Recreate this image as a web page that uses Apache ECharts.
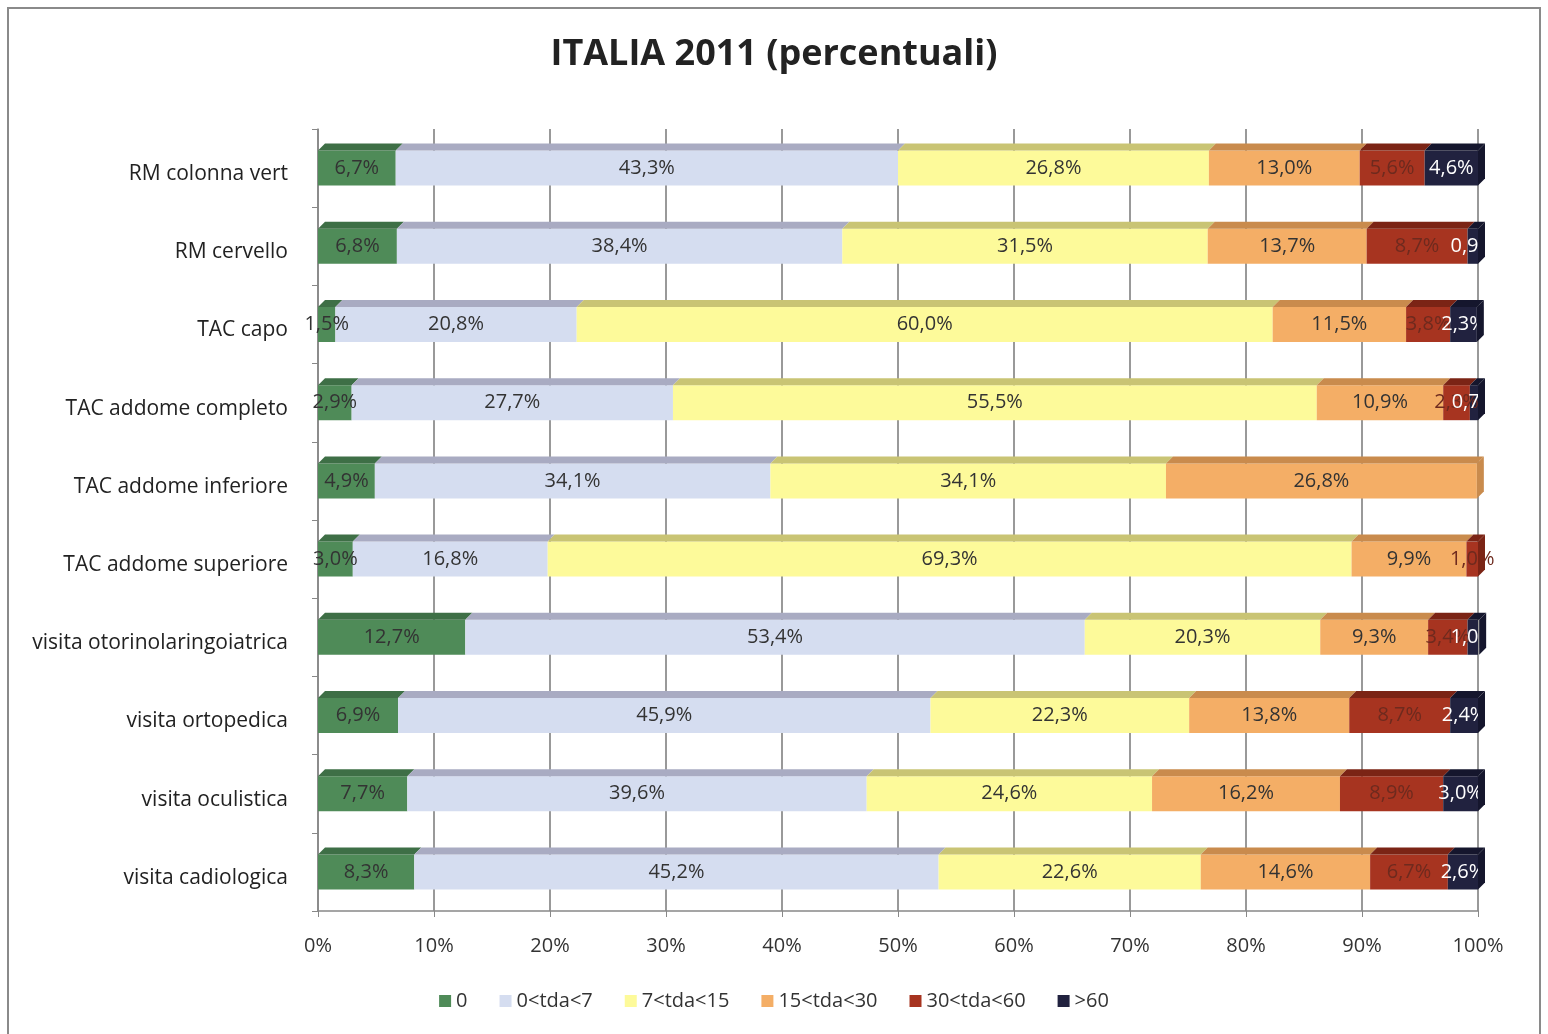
<!DOCTYPE html>
<html><head><meta charset="utf-8">
<script src="https://cdn.jsdelivr.net/npm/echarts@6/dist/echarts.min.js"></script>
<style>html,body{margin:0;padding:0;background:#fff}#c{width:1548px;height:1034px}</style>
</head><body><div id="c"></div>
<script>
const categories = ["RM colonna vert","RM cervello","TAC capo","TAC addome completo","TAC addome inferiore","TAC addome superiore","visita otorinolaringoiatrica","visita ortopedica","visita oculistica","visita cadiologica"];
const seriesNames = ["0","0<tda<7","7<tda<15","15<tda<30","30<tda<60",">60"];
const s0   = [6.7, 6.8, 1.5, 2.9, 4.9, 3.0, 12.7, 6.9, 7.7, 8.3];
const s7   = [43.3, 38.4, 20.8, 27.7, 34.1, 16.8, 53.4, 45.9, 39.6, 45.2];
const s15  = [26.8, 31.5, 60.0, 55.5, 34.1, 69.3, 20.3, 22.3, 24.6, 22.6];
const s30  = [13.0, 13.7, 11.5, 10.9, 26.8, 9.9, 9.3, 13.8, 16.2, 14.6];
const s60  = [5.6, 8.7, 3.8, 2.3, 0, 1.0, 3.4, 8.7, 8.9, 6.7];
const s60p = [4.6, 0.9, 2.3, 0.7, 0, 0, 1.0, 2.4, 3.0, 2.6];
const xTicks = [0,10,20,30,40,50,60,70,80,90,100];

const allSeries = [s0, s7, s15, s30, s60, s60p];
const frontColors = ["#4f8b58","#d5ddf0","#fdfa9a","#f4ae66","#a73420","#21223f"];
const topColors   = ["#3e6f46","#a9abc2","#c9c474","#c98b4d","#7b2415","#15162d"];
const labelColors = ["#333","#333","#333","#333","#6e2a1e","#fff"];

const font = "'Open Sans', Lato, sans-serif";
const BAR = 35, DX = 7, DY = 7;

// faces data: [catIdx, seriesIdx, start, end, isLast]
const faces = [];
categories.forEach((c, i) => {
  let acc = 0, lastIdx = -1;
  allSeries.forEach((s, k) => { if (s[i] > 0) lastIdx = k; });
  allSeries.forEach((s, k) => {
    if (s[i] > 0) faces.push([i, k, acc, acc + s[i], k === lastIdx ? 1 : 0]);
    acc += s[i];
  });
});

const chart = echarts.init(document.getElementById('c'));
const series = allSeries.map((s, k) => ({
  name: seriesNames[k], type: 'bar', stack: 'a', barWidth: BAR, data: s,
  itemStyle: { color: frontColors[k] },
  label: { show: true, position: 'inside', fontFamily: font, fontSize: 20, color: labelColors[k],
    formatter: p => p.value > 0 ? p.value.toFixed(1).replace('.', ',') + '%' : '' },
  z: 3
}));
series.push({
  type: 'custom', silent: true, z: 4,
  data: faces,
  renderItem: (params, api) => {
    const cat = api.value(0), k = api.value(1), a = api.value(2), b = api.value(3), last = api.value(4);
    const p0 = api.coord([a, cat]), p1 = api.coord([b, cat]);
    const yt = p0[1] - BAR / 2, yb = p0[1] + BAR / 2;
    const children = [{
      type: 'polygon',
      shape: { points: [[p0[0], yt], [p0[0] + DX, yt - DY], [p1[0] + DX, yt - DY], [p1[0], yt]] },
      style: { fill: topColors[k] }
    }];
    if (last) children.push({
      type: 'polygon',
      shape: { points: [[p1[0], yt], [p1[0] + DX, yt - DY], [p1[0] + DX, yb - DY], [p1[0], yb]] },
      style: { fill: topColors[k] }
    });
    return { type: 'group', children };
  }
});

chart.setOption({
  animation: false,
  title: { text: 'ITALIA 2011 (percentuali)', left: 'center', top: 32,
    textStyle: { fontFamily: font, fontSize: 36, fontWeight: 'bold', color: '#222' } },
  legend: { bottom: 18, left: 'center', itemWidth: 12, itemHeight: 12, itemGap: 32, icon: 'rect',
    data: seriesNames, textStyle: { fontFamily: font, fontSize: 20, color: '#333' } },
  grid: { left: 318, right: 70, top: 129, bottom: 123 },
  xAxis: { type: 'value', min: 0, max: 100, interval: 10,
    axisLine: { show: true, lineStyle: { color: '#888', width: 1.5 } },
    axisTick: { show: true, length: 6, lineStyle: { color: '#888' } },
    splitLine: { show: true, lineStyle: { color: '#777', width: 1.5 } },
    axisLabel: { formatter: v => xTicks.includes(v) ? v + '%' : '', margin: 25, fontFamily: font, fontSize: 20, color: '#333' } },
  yAxis: { type: 'category', data: categories, inverse: true,
    axisLine: { show: true, lineStyle: { color: '#888', width: 1.5 } },
    axisTick: { show: true, length: 6, lineStyle: { color: '#888' } },
    axisLabel: { margin: 30, formatter: v => '{a|' + v + '}',
      rich: { a: { fontFamily: font, fontSize: 21, color: '#222', padding: [12, 0, 0, 0] } } } },
  graphic: [{ type: 'rect', shape: { x: 8, y: 8, width: 1532, height: 1040 },
    style: { fill: null, stroke: '#8a8a8a', lineWidth: 2 }, z: -1 }],
  series
});
</script></body></html>
